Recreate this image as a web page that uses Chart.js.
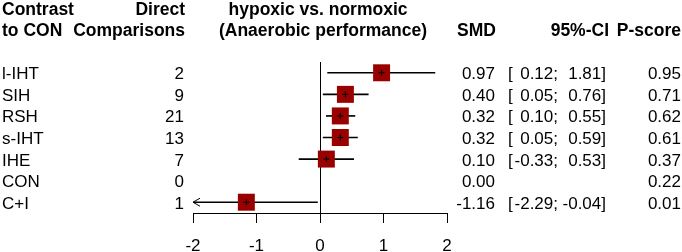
<!DOCTYPE html>
<html>
<head>
<meta charset="utf-8">
<script src="https://cdn.jsdelivr.net/npm/chart.js@4.4.1/dist/chart.umd.min.js"></script>
<style>
  html, body { margin: 0; padding: 0; background: #fff; }
  #wrap { width: 682px; height: 252px; }
</style>
</head>
<body>
<div id="wrap"><canvas id="forest"></canvas></div>
<script>
// forest plot data
const treatments = ["l-IHT", "SIH", "RSH", "s-IHT", "IHE", "CON", "C+I"];
const directComparisons = [2, 9, 21, 13, 7, 0, 1];
const smd = [0.97, 0.40, 0.32, 0.32, 0.10, 0.00, -1.16];
const ciLower = [0.12, 0.05, 0.10, 0.05, -0.33, null, -2.29];
const ciUpper = [1.81, 0.76, 0.55, 0.59, 0.53, null, -0.04];
const pScore = [0.95, 0.71, 0.62, 0.61, 0.37, 0.22, 0.01];
const xTicks = [-2, -1, 0, 1, 2];

const FONT = '"Liberation Sans", Arial, sans-serif';
const SQUARE = "#990000";

const fmt = v => v.toFixed(2);

// text columns + header drawn around the plot
const tablePlugin = {
    id: "forestTable",
    afterDraw(chart) {
        const { ctx, scales } = chart;
        const y = scales.y;
        ctx.save();
        ctx.fillStyle = "#000";

        // header
        ctx.font = "bold 17.5px " + FONT;
        ctx.textBaseline = "alphabetic";
        ctx.textAlign = "left";
        ctx.fillText("Contrast", 2, 15);
        ctx.fillText("to CON", 2, 36);
        ctx.textAlign = "right";
        ctx.fillText("Direct", 185, 15);
        ctx.fillText("Comparisons", 185, 36);
        ctx.textAlign = "center";
        const x0 = scales.x.getPixelForValue(0);
        ctx.fillText("hypoxic vs. normoxic", x0 - 2, 15);
        ctx.fillText("(Anaerobic performance)", x0 + 3, 36);
        ctx.textAlign = "right";
        ctx.fillText("SMD", 496, 36);
        ctx.fillText("95%-CI", 609, 36);
        ctx.fillText("P-score", 681, 36);

        // rows
        ctx.font = "17px " + FONT;
        treatments.forEach((t, i) => {
            const base = y.getPixelForValue(i) + 6.5;
            ctx.textAlign = "left";
            ctx.fillText(t, 2, base);
            ctx.textAlign = "right";
            ctx.fillText(String(directComparisons[i]), 184, base);
            ctx.fillText(fmt(smd[i]), 495, base);
            if (ciLower[i] != null) {
                ctx.textAlign = "left";
                ctx.fillText("[", 508, base);
                ctx.textAlign = "right";
                ctx.fillText(fmt(ciLower[i]) + ";", 558, base);
                ctx.fillText(fmt(ciUpper[i]) + "]", 606, base);
            }
            ctx.fillText(fmt(pScore[i]), 681, base);
        });
        ctx.restore();
    },
};

// arrow heads where the interval runs off the axis
const arrowPlugin = {
    id: "ciArrows",
    afterDatasetsDraw(chart) {
        const { ctx, scales } = chart;
        const x = scales.x;
        ctx.save();
        ctx.strokeStyle = "#000";
        ctx.lineWidth = 1;
        treatments.forEach((t, i) => {
            if (ciLower[i] == null) return;
            const py = scales.y.getPixelForValue(i);
            if (ciLower[i] < x.min) {
                const px = x.getPixelForValue(x.min);
                ctx.beginPath();
                ctx.moveTo(px + 7, py - 4);
                ctx.lineTo(px, py);
                ctx.lineTo(px + 7, py + 4);
                ctx.stroke();
            }
            if (ciUpper[i] > x.max) {
                const px = x.getPixelForValue(x.max);
                ctx.beginPath();
                ctx.moveTo(px - 7, py - 4);
                ctx.lineTo(px, py);
                ctx.lineTo(px - 7, py + 4);
                ctx.stroke();
            }
        });
        ctx.restore();
    },
};

const hasCI = i => ciLower[i] != null;

new Chart(document.getElementById("forest"), {
    type: "bar",
    data: {
        labels: treatments,
        datasets: [
            {
                type: "scatter",
                order: 0,
                data: treatments.map((t, i) => ({ x: hasCI(i) ? smd[i] : null, y: t })),
                pointStyle: "cross",
                radius: 3,
                borderColor: "#000",
                borderWidth: 1,
            },
            {
                type: "scatter",
                order: 1,
                data: treatments.map((t, i) => ({ x: hasCI(i) ? smd[i] : null, y: t })),
                pointStyle: "rect",
                radius: 12,
                backgroundColor: SQUARE,
                borderWidth: 0,
            },
            {
                type: "bar",
                order: 2,
                indexAxis: "y",
                data: treatments.map((t, i) => (hasCI(i) ? [ciLower[i], ciUpper[i]] : null)),
                backgroundColor: "#000",
                borderWidth: 0,
                barThickness: 1,
                clip: 0,
            },
        ],
    },
    options: {
        responsive: true,
        maintainAspectRatio: false,
        animation: false,
        layout: { padding: { left: 193, right: 235, top: 62, bottom: 0 } },
        plugins: {
            legend: { display: false },
            tooltip: { enabled: false },
        },
        scales: {
            x: {
                type: "linear",
                position: "bottom",
                min: -2,
                max: 2,
                offset: false,
                afterBuildTicks: s => {
                    s.ticks = xTicks.map(v => ({ value: v }));
                },
                afterFit: s => {
                    s.height = 39;
                },
                border: { display: true, color: "#000", width: 1 },
                grid: {
                    offset: false,
                    drawOnChartArea: true,
                    color: c => (c.tick && c.tick.value === 0 ? "#000" : "rgba(0,0,0,0)"),
                    tickColor: "#000",
                    tickLength: 10,
                },
                ticks: {
                    color: "#000",
                    padding: 13,
                    font: { family: FONT, size: 17 },
                },
            },
            y: {
                type: "category",
                labels: treatments,
                offset: true,
                display: false,
            },
        },
    },
    plugins: [tablePlugin, arrowPlugin],
});
</script>
</body>
</html>
